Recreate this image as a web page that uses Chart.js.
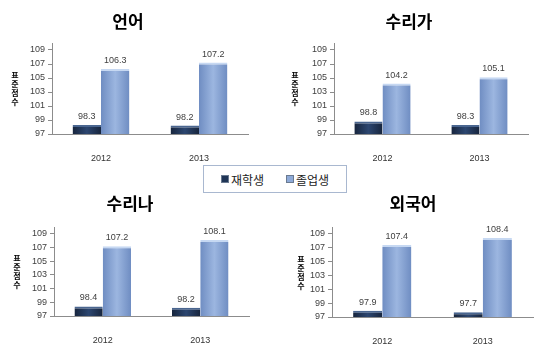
<!DOCTYPE html>
<html>
<head>
<meta charset="utf-8">
<script src="https://cdn.jsdelivr.net/npm/chart.js@4/dist/chart.umd.min.js"></script>
<style>
  body { margin: 0; background: #fff; }
  #wrap { position: relative; width: 542px; height: 352px; background: #fff; overflow: hidden; }
  canvas { position: absolute; }
  #legend {
    position: absolute; left: 203px; top: 165px; width: 142px; height: 26px;
    border: 1px solid #a9b8d0; background: #fff;
    font-family: 'Noto Sans CJK KR', sans-serif; font-size: 12px; color: #222;
    display: flex; align-items: center; justify-content: center; gap: 22px;
  }
  #legend span { display: flex; align-items: center; }
  #legend i { display: inline-block; width: 6px; height: 6px; margin-right: 2px; border: 1px solid #6a7a90; }
</style>
</head>
<body>
<div id="wrap">
  <canvas id="c0"></canvas>
  <canvas id="c1"></canvas>
  <canvas id="c2"></canvas>
  <canvas id="c3"></canvas>
  <div id="legend"></div>
</div>
<script>
const categories = ['2012', '2013']
const series = ['재학생', '졸업생']
const titles = ['언어', '수리가', '수리나', '외국어']
const enrolled = [[98.3, 98.2], [98.8, 98.3], [98.4, 98.2], [97.9, 97.7]]
const graduates = [[106.3, 107.2], [104.2, 105.1], [107.2, 108.1], [107.4, 108.4]]
const yTicks = [97, 99, 101, 103, 105, 107, 109]
const yTitle = '표준점수'

// where each panel sits on the page (padL + yw = axis position)
const panels = [
  { left: 0,   top: 0,   w: 270, h: 175, padL: 8,  yw: 44, padR: 22, plotTop: 43, plotBottom: 134, titleX: 15 },
  { left: 270, top: 0,   w: 272, h: 175, padL: 20, yw: 44, padR: 14, plotTop: 43, plotBottom: 134, titleX: 25 },
  { left: 0,   top: 182, w: 270, h: 170, padL: 11, yw: 43, padR: 21, plotTop: 45, plotBottom: 134, titleX: 17 },
  { left: 270, top: 182, w: 272, h: 170, padL: 23, yw: 39, padR: 9,  plotTop: 45, plotBottom: 135, titleX: 31 }
]

const colors = ['#1f3556', '#8eaad8']
const CAT_PCT = 0.58
const numFont = "'Liberation Sans', 'Noto Sans CJK KR', sans-serif"

// legend as html
document.getElementById('legend').innerHTML = series.map((s, i) =>
  `<span><i style="background:${colors[i]}"></i>${s}</span>`).join('')

function barFill(dark) {
  return function (ctx) {
    const chart = ctx.chart
    const xs = chart.scales.x
    const flat = dark ? colors[0] : colors[1]
    if (!xs || ctx.dataIndex === undefined) return flat
    const c = xs.getPixelForValue(ctx.dataIndex)
    const w = xs.width / categories.length * CAT_PCT / 2
    if (!isFinite(c) || !isFinite(w) || w <= 0) return flat
    const x0 = ctx.datasetIndex === 0 ? c - w : c
    const g = chart.ctx.createLinearGradient(x0, 0, x0 + w, 0)
    if (dark) {
      g.addColorStop(0, '#17253d')
      g.addColorStop(0.5, '#2c4670')
      g.addColorStop(1, '#17253d')
    } else {
      g.addColorStop(0, '#6f8dc2')
      g.addColorStop(0.5, '#9cb6e0')
      g.addColorStop(1, '#6f8dc2')
    }
    return g
  }
}

// value labels above bars
const valueLabels = {
  id: 'valueLabels',
  afterDatasetsDraw(chart) {
    const c = chart.ctx
    c.save()
    c.font = '9px ' + numFont
    c.fillStyle = '#404040'
    c.textAlign = 'center'
    c.textBaseline = 'bottom'
    chart.data.datasets.forEach((ds, di) => {
      chart.getDatasetMeta(di).data.forEach((bar, i) => {
        c.fillText(ds.data[i].toFixed(1), bar.x, bar.y - 4)
      })
    })
    c.restore()
  }
}

// stacked upright y title
const stackedTitle = {
  id: 'stackedTitle',
  afterDraw(chart, args, opts) {
    const c = chart.ctx
    const a = chart.chartArea
    const chars = yTitle.split('')
    const step = 9
    let y = (a.top + a.bottom) / 2 - (chars.length - 1) * step / 2
    c.save()
    c.font = "bold 8px 'Noto Sans CJK KR', sans-serif"
    c.fillStyle = '#000'
    c.textAlign = 'center'
    c.textBaseline = 'middle'
    chars.forEach(ch => { c.fillText(ch, opts.x, y); y += step })
    c.restore()
  }
}

panels.forEach((p, k) => {
  const el = document.getElementById('c' + k)
  el.style.left = p.left + 'px'
  el.style.top = p.top + 'px'
  el.style.width = p.w + 'px'
  el.style.height = p.h + 'px'
  el.width = p.w
  el.height = p.h

  const titleY = 22
  const config = {
    type: 'bar',
    data: {
      labels: categories,
      datasets: [
        { label: series[0], data: enrolled[k], backgroundColor: barFill(true),
          borderColor: '#4a6690', borderWidth: { top: 2, left: 0, right: 0, bottom: 0 }, borderSkipped: false },
        { label: series[1], data: graduates[k], backgroundColor: barFill(false),
          borderColor: '#c6d8f2', borderWidth: { top: 2, left: 0, right: 0, bottom: 0 }, borderSkipped: false }
      ]
    },
    options: {
      responsive: false,
      animation: false,
      categoryPercentage: CAT_PCT,
      barPercentage: 1,
      layout: { padding: { left: p.padL, right: p.padR, top: 0, bottom: 0 } },
      plugins: {
        legend: { display: false },
        tooltip: { enabled: false },
        title: {
          display: true,
          text: titles[k],
          color: '#000',
          font: { size: 17, weight: 'bold', family: "'Noto Sans CJK KR', sans-serif", lineHeight: 1.2 },
          padding: { top: titleY - 10.2, bottom: p.plotTop - titleY - 10.2 }
        },
        stackedTitle: { x: p.titleX }
      },
      scales: {
        x: {
          grid: { display: false },
          border: { color: '#8c8c8c' },
          ticks: { color: '#333', font: { size: 9, family: numFont }, padding: 11 },
          afterFit(s) { s.height = p.h - p.plotBottom }
        },
        y: {
          min: 97,
          max: 110,
          afterBuildTicks(s) { s.ticks = yTicks.map(v => ({ value: v })) },
          grid: { drawOnChartArea: false, tickLength: 4, color: '#8c8c8c' },
          border: { color: '#8c8c8c' },
          ticks: { color: '#404040', font: { size: 9, family: numFont }, padding: 3 },
          afterFit(s) { s.width = p.yw }
        }
      }
    },
    plugins: [valueLabels, stackedTitle]
  }
  new Chart(el, config)
})
</script>
</body>
</html>
